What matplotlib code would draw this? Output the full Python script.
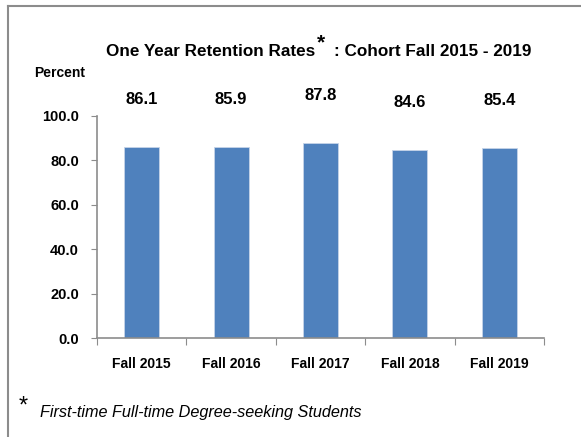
import matplotlib
matplotlib.use("Agg")
import matplotlib.pyplot as plt
from matplotlib.lines import Line2D

categories = ["Fall 2015", "Fall 2016", "Fall 2017", "Fall 2018", "Fall 2019"]
rates = [86.1, 85.9, 87.8, 84.6, 85.4]
yticks = [0, 20, 40, 60, 80, 100]

plt.rcParams["font.family"] = ["Liberation Sans", "DejaVu Sans"]

W, H = 581, 437
fig = plt.figure(figsize=(W / 100, H / 100), dpi=100)
fig.patch.set_facecolor("white")

# outer border (top and left only visible)
fig.add_artist(Line2D([8 / W, 1], [1 - 6 / H, 1 - 6 / H], color="#8c8c8c", lw=1.5, transform=fig.transFigure))
fig.add_artist(Line2D([8 / W, 8 / W], [0, 1 - 6 / H], color="#8c8c8c", lw=1.5, transform=fig.transFigure))

ax = fig.add_axes([97 / W, 1 - 338 / H, (544 - 97) / W, (338 - 116) / H])
x = list(range(len(categories)))
ax.bar(x, rates, width=0.39, color="#4F81BD", edgecolor="#C6D4E8", linewidth=0.6, zorder=2)
ax.set_xlim(-0.5, len(categories) - 0.5)
ax.set_ylim(0, 100)
ax.set_yticks(yticks)
ax.set_yticklabels([f"{v:.1f}" for v in yticks], fontsize=10.5, fontweight="bold")
ax.set_xticks([i + 0.5 for i in range(-1, len(categories))], minor=False)
ax.set_xticklabels([""] * (len(categories) + 1))
ax.set_xticks(x, minor=True)
ax.set_xticklabels(categories, minor=True, fontsize=10, fontweight="bold")
ax.tick_params(axis="x", which="minor", length=0, pad=14)
ax.tick_params(axis="x", which="major", length=5, color="#8c8c8c", direction="out")
ax.tick_params(axis="y", length=4, color="#8c8c8c", direction="out", pad=9)
for s in ["top", "right"]:
    ax.spines[s].set_visible(False)
for s in ["left", "bottom"]:
    ax.spines[s].set_color("#8c8c8c")
    ax.spines[s].set_linewidth(1.2)

for i, v in enumerate(rates):
    ax.text(i, v + 21.5, f"{v:.1f}", ha="center", va="center",
            fontsize=12, fontweight="bold", clip_on=False)

ty = 1 - 51 / H
fig.text(315 / W, ty, "One Year Retention Rates", ha="right", va="center", fontsize=12.3, fontweight="bold")
fig.text(321 / W, 1 - 43 / H, "*", ha="center", va="center", fontsize=15, fontweight="bold")
fig.text(334 / W, ty, ": Cohort Fall 2015 - 2019", ha="left", va="center", fontsize=12.3, fontweight="bold")
fig.text(60 / W, 1 - 73 / H, "Percent", ha="center", va="center", fontsize=10, fontweight="bold")
fig.text(23 / W, 1 - 407 / H, "*", ha="center", va="center", fontsize=17)
fig.text(40 / W, 1 - 413 / H, "First-time Full-time Degree-seeking Students", ha="left", va="center",
         fontsize=11.7, fontstyle="italic")

fig.savefig("out.png", dpi=100)
